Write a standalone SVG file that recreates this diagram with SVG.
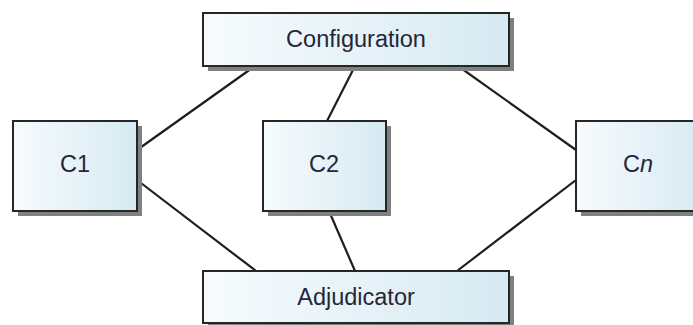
<svg xmlns="http://www.w3.org/2000/svg" width="693" height="325" viewBox="0 0 693 325">
  <defs>
    <linearGradient id="boxFill" x1="0" y1="0" x2="1" y2="0">
      <stop offset="0" stop-color="#f7fbfd"/>
      <stop offset="1" stop-color="#d6eaf2"/>
    </linearGradient>
    <style>
      .shadow { fill: #808080; }
      .box { fill: url(#boxFill); stroke: #262626; stroke-width: 2; }
      .label { font-family: "Liberation Sans", Arial, sans-serif; font-size: 23.5px; fill: #262638; text-anchor: middle; }
      .link { stroke: #1e1e1e; stroke-width: 2.2; fill: none; }
    </style>
  </defs>

  <!-- connectors -->
  <g id="connectors">
    <line class="link" x1="137" y1="150" x2="255" y2="66"/>
    <line class="link" x1="137" y1="180" x2="256" y2="271"/>
    <line class="link" x1="327" y1="121" x2="355" y2="66"/>
    <line class="link" x1="329" y1="211" x2="355" y2="271"/>
    <line class="link" x1="458" y1="66" x2="576" y2="150"/>
    <line class="link" x1="457" y1="271" x2="576" y2="180"/>
  </g>

  <g id="configuration">
    <rect class="shadow" x="208" y="18" width="306" height="53"/>
    <rect class="box" x="203" y="13" width="306" height="53"/>
    <text class="label" x="356" y="47">Configuration</text>
  </g>

  <g id="c1">
    <rect class="shadow" x="18" y="126" width="124" height="90"/>
    <rect class="box" x="13" y="121" width="124" height="90"/>
    <text class="label" x="75" y="172">C1</text>
  </g>

  <g id="c2">
    <rect class="shadow" x="268" y="126" width="123" height="90"/>
    <rect class="box" x="263" y="121" width="123" height="90"/>
    <text class="label" x="324" y="172">C2</text>
  </g>

  <g id="cn">
    <rect class="shadow" x="581" y="126" width="130" height="90"/>
    <rect class="box" x="576" y="121" width="130" height="90"/>
    <text class="label" x="638" y="172">C<tspan font-style="italic">n</tspan></text>
  </g>

  <g id="adjudicator">
    <rect class="shadow" x="208" y="276" width="306" height="52"/>
    <rect class="box" x="203" y="271" width="306" height="52"/>
    <text class="label" x="356" y="305">Adjudicator</text>
  </g>
</svg>
